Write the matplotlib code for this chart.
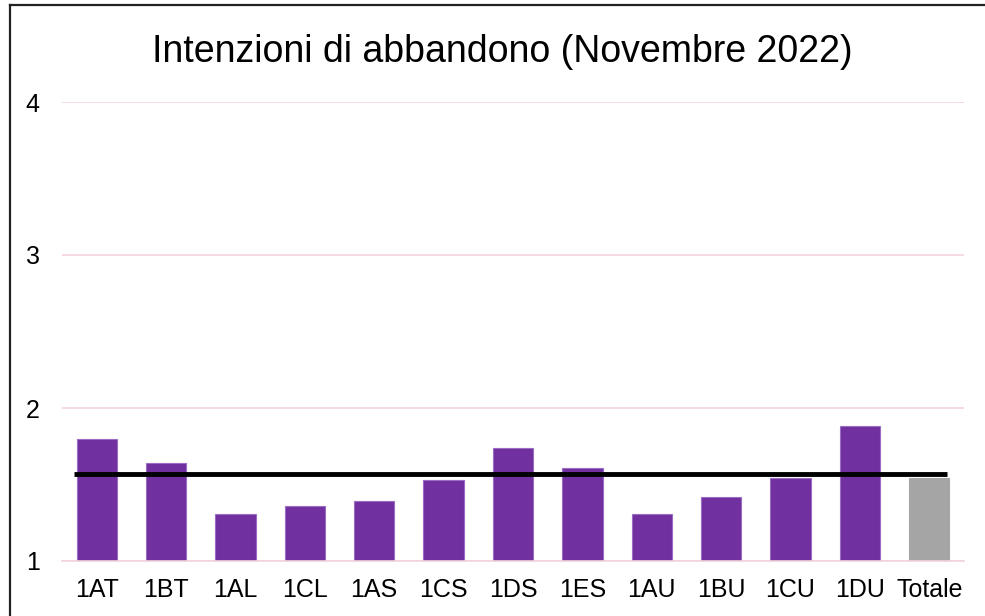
import matplotlib
matplotlib.use('Agg')
import matplotlib.pyplot as plt
from matplotlib.lines import Line2D

plt.rcParams['font.family'] = ['Liberation Sans', 'DejaVu Sans']

# dati
classi = ['1AT', '1BT', '1AL', '1CL', '1AS', '1CS', '1DS', '1ES', '1AU', '1BU', '1CU', '1DU', 'Totale']
valori = [1.80, 1.64, 1.31, 1.36, 1.39, 1.53, 1.74, 1.61, 1.31, 1.42, 1.54, 1.88, 1.54]
media = 1.57
y_ticks = [1, 2, 3, 4]

colori = ['#7030A0'] * (len(classi) - 1) + ['#A5A5A5']
bordi = ['#9A6CC4'] * (len(classi) - 1) + ['#A5A5A5']

fig = plt.figure(figsize=(9.85, 6.16), dpi=100)
ax = fig.add_axes([62 / 985, 1 - 561 / 616, 902 / 985, 459 / 616])

x = list(range(len(classi)))
ax.bar(x, [v - 1 for v in valori], bottom=1, width=0.58, color=colori,
       edgecolor=bordi, linewidth=0.8, zorder=2)

# linea della media
ax.plot([-0.33, 12.25], [media, media], color='black', linewidth=3.5,
        solid_capstyle='butt', zorder=3)

ax.set_xlim(-0.5, len(classi) - 0.5)
ax.set_ylim(1, 4)
ax.set_yticks(y_ticks)
ax.set_xticks(x)
ax.set_xticklabels(classi)
ax.tick_params(axis='both', length=0, labelsize=18, colors='black')
ax.tick_params(axis='y', pad=16)
ax.tick_params(axis='x', pad=12)

ax.grid(axis='y', color='#F3D3DC', linewidth=1.2, zorder=0)
for s in ['top', 'right', 'left']:
    ax.spines[s].set_visible(False)
ax.spines['bottom'].set_color('#F3D3DC')
ax.spines['bottom'].set_linewidth(1.2)

fig.text(502 / 985, 1 - 62 / 616, 'Intenzioni di abbandono (Novembre 2022)',
         ha='center', va='baseline', fontsize=27)

# cornice esterna
fig.add_artist(Line2D([10 / 985, 1], [1 - 5 / 616, 1 - 5 / 616], color='#222222',
                      linewidth=1.6, transform=fig.transFigure))
fig.add_artist(Line2D([10 / 985, 10 / 985], [0, 1 - 5 / 616], color='#222222',
                      linewidth=1.6, transform=fig.transFigure))

fig.savefig('out.png', dpi=100)
